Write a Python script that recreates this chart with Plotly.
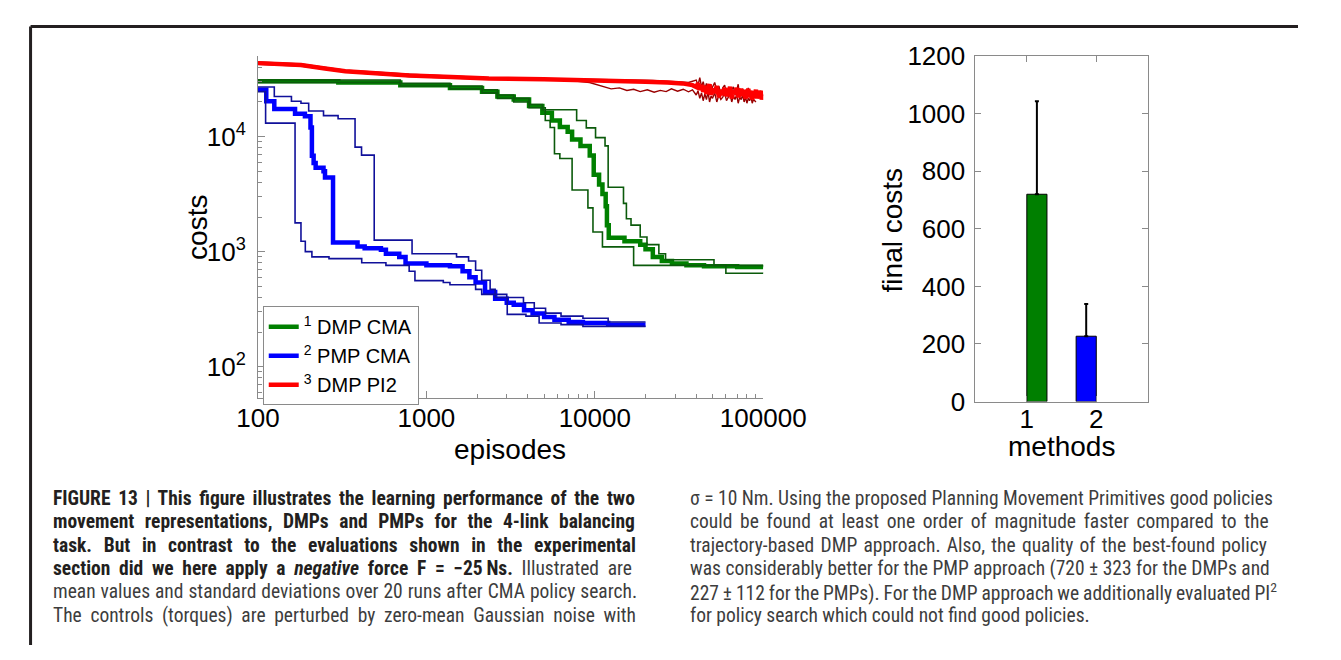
import plotly.graph_objects as go

W, H = 1341, 660

# ---------------- data: learning curves (episodes -> costs) ----------------
# DMP CMA (green)
dmp_cma_mean_x = [100, 300, 700, 1380, 2140, 2640, 3300, 4070, 4880, 5560, 6200, 6900, 7330, 8220, 9330,
                  9850, 10600, 11100, 11600, 11800, 12100, 15000, 18600, 20000, 22100, 25000, 28700,
                  35000, 44500, 70000, 100000]
dmp_cma_mean_y = [30200, 29500, 28000, 26500, 24500, 22300, 21000, 18400, 16100, 13800, 12100, 11000, 9440,
                  8300, 6840, 4650, 3840, 3170, 2480, 1700, 1320, 1230, 1150, 1050, 900, 830, 790,
                  760, 745, 735, 733]
dmp_cma_up_x = [100, 700, 1380, 2140, 2640, 3300, 4070, 4880, 7800, 8900, 10100, 11500, 12000, 14800,
                15400, 16400, 18600, 20400, 24000, 26300, 51000, 100000]
dmp_cma_up_y = [31000, 29000, 27500, 25500, 23000, 21500, 19000, 17100, 13800, 11900, 9800, 8300, 3630,
                2630, 1930, 1700, 1340, 1150, 960, 850, 760, 760]
dmp_cma_lo_x = [100, 700, 1380, 2140, 2640, 3300, 4070, 5080, 5430, 5760, 6200, 7330, 9100, 9750,
                11100, 17000, 60000, 100000]
dmp_cma_lo_y = [29500, 27500, 26000, 24000, 21500, 20000, 17800, 13800, 12000, 7100, 6460, 3430, 2400,
                1480, 1100, 760, 650, 645]

# PMP CMA (blue)
pmp_cma_mean_x = [100, 112, 125, 166, 190, 205, 209, 214, 220, 245, 250, 279, 390, 430, 537, 575, 690,
                  752, 1000, 1380, 1640, 1800, 1960, 2230, 2560, 3000, 3300, 3800, 4270, 5000, 5760,
                  7000, 8500, 12000, 20000]
pmp_cma_mean_y = [25500, 20300, 17400, 15800, 15000, 12000, 6800, 5900, 5360, 5000, 4400, 1200, 1110,
                  1070, 1040, 960, 900, 787, 760, 745, 675, 600, 540, 445, 390, 360, 345, 310, 290,
                  270, 256, 245, 240, 232, 232]
pmp_cma_up_x = [100, 125, 158, 180, 200, 245, 299, 377, 412, 490, 822, 1510, 1780, 1960, 2130, 2390,
                2560, 3000, 3770, 4370, 5100, 6300, 8500, 12000, 20000]
pmp_cma_up_y = [27000, 22300, 20300, 19500, 16700, 15200, 14300, 8100, 6900, 1260, 960, 900, 830, 690,
                565, 470, 425, 400, 360, 322, 292, 275, 264, 245, 245]
pmp_cma_lo_x = [100, 111, 166, 180, 191, 209, 264, 413, 575, 790, 855, 1260, 1380, 1960, 2130, 2560,
                3020, 3900, 4670, 6300, 8500, 20000]
pmp_cma_lo_y = [24600, 13100, 1780, 1230, 1000, 900, 870, 800, 760, 675, 560, 540, 515, 470, 425, 400,
                285, 275, 240, 232, 224, 224]

# DMP PI2 (red)
noise_x = [40000, 41000, 42000, 43000, 44000, 45000, 46000, 47000, 48000, 49000, 50000, 51500, 53000,
           54500, 56000, 57500, 59000, 60500, 62000, 63500, 65000, 66500, 68000, 69500, 71000, 72500,
           74000, 75500, 77000, 78500, 80000, 81500, 83000, 84500, 86000, 87500, 89000, 90500, 92000,
           93500, 95000, 96500, 98000, 100000]
dmp_pi2_mean_x = [100, 130, 180, 250, 330, 500, 790, 1400, 2350, 5000, 10000, 15000, 20000, 27000,
                  33000, 38000] + noise_x
dmp_pi2_mean_y = [43500, 43000, 41900, 39000, 37000, 35500, 34000, 33000, 32000, 31500, 31000, 30500,
                  30000, 29500, 29000, 28000,
                  27000, 29000, 25500, 28000, 24500, 27500, 23500, 26500, 28500, 23000, 26000, 24000,
                  27500, 22000, 25500, 23000, 26500, 22500, 25000, 27000, 21500, 25000, 23500, 26500,
                  22000, 24500, 26000, 22500, 25500, 21500, 24000, 26000, 22000, 25000, 21000, 24500,
                  23000, 25500, 21500, 24000, 22500, 25000, 21000, 23500]
dmp_pi2_up_x = [100, 180, 330, 790, 2350, 9000, 15000, 22000, 30000, 36000] + noise_x
dmp_pi2_up_y = [44500, 42800, 37800, 34800, 32500, 31500, 31200, 30800, 30000, 29500,
                31000, 28000, 32500, 27000, 30000, 26000, 29000, 25500, 28500, 24500, 27000, 29500,
                25000, 27500, 23500, 26500, 28000, 24000, 26000, 22500, 25500, 27000, 23000, 25000,
                28500, 22000, 24500, 26000, 22500, 25500, 23000, 26500, 22000, 25000, 23500, 21500,
                24500, 22500, 24000, 21500, 23000, 25000, 22000, 23000]
dmp_pi2_lo_x = [100, 180, 330, 790, 2350, 7000, 9300, 11000, 12500, 14000, 15500, 17000, 18600, 20500,
                22500, 24500, 26500, 28500, 31000, 33500, 36000, 38000] + noise_x
dmp_pi2_lo_y = [42500, 41000, 36300, 33300, 31500, 30800, 29500, 27500, 26000, 26500, 25200, 25800,
                24600, 25500, 24300, 25200, 24600, 26000, 24800, 25800, 24500, 25500,
                23000, 25000, 21500, 24000, 20500, 23500, 21000, 24500, 20000, 22500, 21500, 24000,
                20000, 23000, 21000, 22000, 24000, 20500, 22000, 23500, 20000, 22500, 21000, 23000,
                19500, 22000, 21000, 23000, 20000, 22000, 19500, 21500, 20500, 22500, 19500, 21000,
                20500, 20000]

# ---------------- data: final costs bar chart ----------------
methods = [1, 2]
final_costs = [720, 227]
final_costs_std = [323, 112]
bar_colors = ["#007f00", "#0000ff"]

# ---------------- figure ----------------
fig = go.Figure()

GREEN, GREEN_D = "#008000", "#0b5a0b"
BLUE, BLUE_D = "#0000ff", "#10109a"
RED, RED_D = "#ff0000", "#9a0000"

def line(x, y, color, width, name=None, legend=False, shape="hv"):
    fig.add_trace(go.Scatter(x=x, y=y, mode="lines", name=name, showlegend=legend,
                             line=dict(color=color, width=width, shape=shape),
                             xaxis="x", yaxis="y", hoverinfo="skip"))

line(dmp_cma_mean_x, dmp_cma_mean_y, GREEN, 4.5, "<sup>1</sup> DMP CMA", True)
line(pmp_cma_mean_x, pmp_cma_mean_y, BLUE, 4.5, "<sup>2</sup> PMP CMA", True)
line(dmp_pi2_up_x, dmp_pi2_up_y, RED_D, 1.4, shape="linear")
line(dmp_pi2_lo_x, dmp_pi2_lo_y, RED_D, 1.4, shape="linear")
line(dmp_pi2_mean_x, dmp_pi2_mean_y, RED, 4.5, "<sup>3</sup> DMP PI2", True, shape="linear")
line(dmp_cma_up_x, dmp_cma_up_y, GREEN_D, 1.6)
line(dmp_cma_lo_x, dmp_cma_lo_y, GREEN_D, 1.6)
line(pmp_cma_up_x, pmp_cma_up_y, BLUE_D, 1.6)
line(pmp_cma_lo_x, pmp_cma_lo_y, BLUE_D, 1.6)

fig.add_trace(go.Bar(x=methods, y=final_costs, width=0.29, offset=[0, -0.29],
                     marker=dict(color=bar_colors, line=dict(color="black", width=1)),
                     error_y=dict(type="data", symmetric=False, array=final_costs_std,
                                  arrayminus=[0, 0], color="black", thickness=2, width=2),
                     xaxis="x2", yaxis="y2", showlegend=False, hoverinfo="skip"))

AX = "#8a8a8a"
TICKFONT = dict(family="Arial, Liberation Sans, sans-serif", size=26, color="black")
minor_x = [m * 10 ** k for k in range(2, 5) for m in range(2, 10)]
minor_y = [m * 10 ** k for k in range(1, 5) for m in range(2, 10)]

def px(v):
    return v / W

def py(v):
    return 1 - v / H

fig.update_layout(
    width=W, height=H, margin=dict(l=0, r=0, t=0, b=0),
    paper_bgcolor="white", plot_bgcolor="white",
    xaxis=dict(domain=[px(248), px(779)], anchor="y", type="log", range=[2, 5],
               tickvals=[100, 1000, 10000, 100000], ticktext=["100", "1000", "10000", "100000"],
               ticks="inside", ticklen=7, tickcolor=AX, showline=True, linecolor=AX, linewidth=1,
               showgrid=False, zeroline=False, tickfont=TICKFONT, ticklabelstandoff=-3,
               minor=dict(tickmode="array", tickvals=minor_x, ticks="inside", ticklen=4,
                          tickcolor=AX, showgrid=False)),
    yaxis=dict(domain=[py(401), py(43)], anchor="x", type="log", range=[1.73, 4.70],
               tickvals=[100, 1000, 10000],
               ticktext=["10<sup>2</sup>", "10<sup>3</sup>", "10<sup>4</sup>"],
               ticks="inside", ticklen=7, tickcolor=AX, showline=True, linecolor=AX, linewidth=1,
               showgrid=False, zeroline=False, tickfont=TICKFONT, ticklabelstandoff=6,
               minor=dict(tickmode="array", tickvals=minor_y, ticks="inside", ticklen=4,
                          tickcolor=AX, showgrid=False)),
    xaxis2=dict(domain=[px(1002), px(1183)], anchor="y2", range=[0.26, 2.74],
                tickvals=[1, 2], ticktext=["1", "2"], ticks="inside", ticklen=6, tickcolor=AX,
                showline=True, linecolor=AX, linewidth=1, mirror="ticks", showgrid=False,
                zeroline=False, tickfont=TICKFONT, ticklabelstandoff=-6),
    yaxis2=dict(domain=[py(405), py(43)], anchor="x2", range=[0, 1200], tickmode="linear",
                tick0=0, dtick=200, ticks="inside", ticklen=6, tickcolor=AX, showline=True,
                linecolor=AX, linewidth=1, mirror="ticks", showgrid=False, zeroline=False,
                tickfont=TICKFONT, ticklabelstandoff=4),
    legend=dict(x=px(253), y=py(305), xanchor="left", yanchor="top", bgcolor="white",
                bordercolor=AX, borderwidth=1, itemwidth=30, tracegroupgap=0,
                font=dict(family="Arial, Liberation Sans, sans-serif", size=20, color="black")),
    font=dict(family="Arial, Liberation Sans, sans-serif"),
)

TITLEFONT = dict(family="Arial, Liberation Sans, sans-serif", size=28, color="black")
ann = [
    dict(text="costs", x=px(185), y=py(223), textangle=-90, font=TITLEFONT),
    dict(text="episodes", x=px(513), y=py(455), font=TITLEFONT),
    dict(text="final costs", x=px(915), y=py(225), textangle=-90, font=TITLEFONT),
    dict(text="methods", x=px(1092), y=py(452), font=TITLEFONT),
]
for a in ann:
    a.update(xref="paper", yref="paper", showarrow=False, xanchor="center", yanchor="middle")
    fig.add_annotation(**a)

# ---------------- caption (two justified columns) ----------------
CAP_FONT = "Liberation Sans Narrow, Arial Narrow, Roboto Condensed, Roboto, Arial, sans-serif"
BOLD_C = "#231f20"
REG_C = "#3d3d3d"
left_lines = [
    "<b>FIGURE 13 | This figure illustrates the learning performance of the two</b>",
    "<b>movement representations, DMPs and PMPs for the 4-link balancing</b>",
    "<b>task. But in contrast to the evaluations shown in the experimental</b>",
    "<b>section did we here apply a <i>negative</i> force F = \u221225\u2009Ns.</b>"
    "<span style='color:%s'> Illustrated are</span>" % REG_C,
    "<span style='color:%s'>mean values and standard deviations over 20 runs after CMA policy search.</span>" % REG_C,
    "<span style='color:%s'>The controls (torques) are perturbed by zero-mean Gaussian noise with</span>" % REG_C,
]
right_lines = [
    "\u03c3 = 10 Nm. Using the proposed Planning Movement Primitives good policies",
    "could be found at least one order of magnitude faster compared to the",
    "trajectory-based DMP approach. Also, the quality of the best-found policy",
    "was considerably better for the PMP approach (720 \u00b1 323 for the DMPs and",
    "227 \u00b1 112 for the PMPs). For the DMP approach we additionally evaluated PI<sup>2</sup>",
    "for policy search which could not find good policies.",
]
left_spacing = [3.2, 6.0, 7.2, 4.2, 0.5, 4.2]
right_spacing = [0, 3.2, 1.8, 0, -0.5, 0]
line_y = [507, 531, 556, 580, 604, 629]

def justify(t, s):
    return "<span style='word-spacing:%.1fpx'>%s</span>" % (s, t)

for i, t in enumerate(left_lines):
    fig.add_annotation(text=justify(t, left_spacing[i]), x=px(31), y=py(line_y[i]),
                       xref="paper", yref="paper", showarrow=False, xanchor="left",
                       yanchor="middle", align="left",
                       font=dict(family=CAP_FONT, size=19.5, color=BOLD_C))
for i, t in enumerate(right_lines):
    fig.add_annotation(text=justify(t, right_spacing[i]), x=px(700), y=py(line_y[i]),
                       xref="paper", yref="paper", showarrow=False, xanchor="left",
                       yanchor="middle", align="left",
                       font=dict(family=CAP_FONT, size=19.5, color=REG_C))

# figure frame (top and left edges visible)
fig.add_shape(type="line", xref="paper", yref="paper", x0=px(9), x1=1, y0=py(12), y1=py(12),
              line=dict(color="#231f20", width=3))
fig.add_shape(type="line", xref="paper", yref="paper", x0=px(9), x1=px(9), y0=py(12), y1=0,
              line=dict(color="#231f20", width=3))

fig.write_html("out.html",
               post_script="document.body.style.margin='0';document.body.style.overflow='hidden';")
